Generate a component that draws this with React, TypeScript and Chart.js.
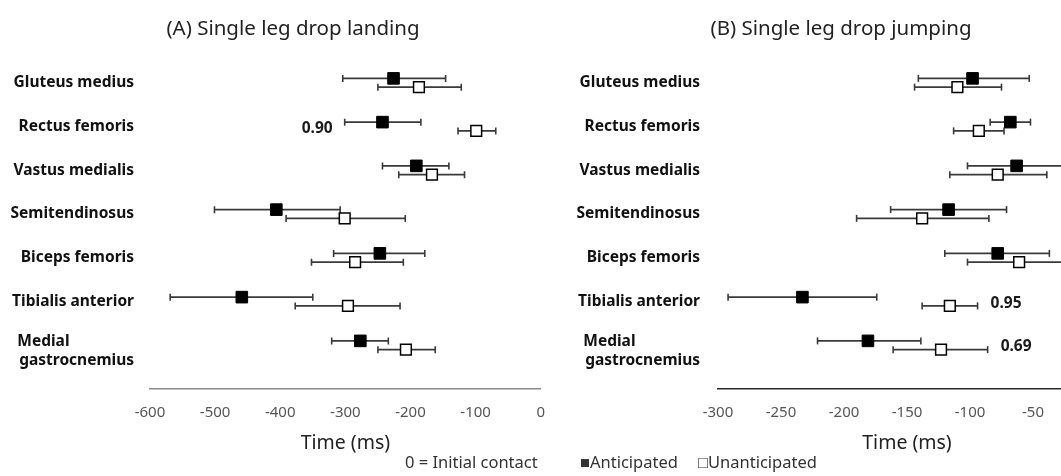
import React, { useEffect, useRef } from 'react';
import { Chart, registerables } from 'chart.js';

Chart.register(...registerables);

const FONT = "'Noto Sans', 'Open Sans', sans-serif";

// Row labels (top to bottom)
const muscles: (string | string[])[] = [
  'Gluteus medius',
  'Rectus femoris',
  'Vastus medialis',
  'Semitendinosus',
  'Biceps femoris',
  'Tibialis anterior',
  ['Medial', 'gastrocnemius'],
];

// (A) Single leg drop landing — onset time (ms)
const landAntMean = [-226, -243, -191, -406, -247, -459, -277];
const landAntLow = [-304, -301, -243, -501, -318, -569, -321];
const landAntHigh = [-146, -184, -141, -308, -178, -350, -234];
const landUnaMean = [-187, -99, -167, -301, -285, -296, -207];
const landUnaLow = [-250, -127, -218, -391, -352, -377, -250];
const landUnaHigh = [-122, -69, -117, -208, -211, -216, -162];

// (B) Single leg drop jumping — onset time (ms)
const jumpAntMean = [-98, -68, -63, -117, -78, -233, -181];
const jumpAntLow = [-141, -84, -102, -163, -120, -292, -221];
const jumpAntHigh = [-53, -52, -20, -71, -37, -174, -139];
const jumpUnaMean = [-110, -93, -78, -138, -61, -116, -123];
const jumpUnaLow = [-144, -113, -116, -190, -102, -138, -161];
const jumpUnaHigh = [-75, -73, -39, -85, -20, -94, -86];

// Axis ticks
const landTicks = [-600, -500, -400, -300, -200, -100, 0];
const jumpTicks = [-300, -250, -200, -150, -100, -50, 0];

// Effect-size annotations
const landNotes = [{ row: 1, value: -301, text: '0.90', side: 'left' }];
const jumpNotes = [
  { row: 5, value: -94, text: '0.95', side: 'right' },
  { row: 6, value: -86, text: '0.69', side: 'right' },
];

const LABEL_FONT_SIZE = 15.5;

let measureCtx: CanvasRenderingContext2D | null = null;
function alignLines(label: string | string[]) {
  if (!Array.isArray(label)) return label;
  if (!measureCtx) measureCtx = document.createElement('canvas').getContext('2d');
  const ctx = measureCtx!;
  ctx.font = `bold ${LABEL_FONT_SIZE}px ${FONT}`;
  const widths = label.map((l) => ctx.measureText(l).width);
  const maxW = Math.max(...widths);
  const sp = ctx.measureText(' ').width;
  return label.map((l, i) => l + ' '.repeat(Math.max(0, Math.round((maxW - widths[i]) / sp))));
}

const notesPlugin = {
  id: 'notes',
  afterDatasetsDraw(chart: any, _args: any, opts: any) {
    const notes = opts.items || [];
    const { ctx, scales } = chart;
    ctx.save();
    ctx.font = `bold 15.5px ${FONT}`;
    ctx.fillStyle = '#1a1a1a';
    ctx.textBaseline = 'middle';
    notes.forEach((n: any) => {
      const px = scales.x.getPixelForValue(n.value);
      const py = scales.y.getPixelForValue(n.row + 0.04);
      if (n.side === 'left') {
        ctx.textAlign = 'right';
        ctx.fillText(n.text, px - 12, py);
      } else {
        ctx.textAlign = 'left';
        ctx.fillText(n.text, px + 13, py);
      }
    });
    ctx.restore();
  },
};

function buildConfig(o: any) {
  const off = 0.1;
  const datasets: any[] = [];
  const groups = [
    { mean: o.antMean, low: o.antLow, high: o.antHigh, dy: -off, filled: true },
    { mean: o.unaMean, low: o.unaLow, high: o.unaHigh, dy: off, filled: false },
  ];
  groups.forEach((g) => {
    g.mean.forEach((_: number, i: number) => {
      datasets.push({
        data: [
          { x: g.low[i], y: i + g.dy },
          { x: g.high[i], y: i + g.dy },
        ],
        showLine: true,
        borderColor: '#3a3a3a',
        borderWidth: 1.8,
        pointStyle: 'line',
        pointRadius: 3.5,
        pointHoverRadius: 3.5,
        pointRotation: 90,
        pointBorderColor: '#3a3a3a',
        pointBorderWidth: 1.6,
        order: 2,
      });
    });
    datasets.push({
      data: g.mean.map((m: number, i: number) => ({ x: m, y: i + g.dy })),
      showLine: false,
      pointStyle: 'rect',
      pointRadius: g.filled ? 8.2 : 7.6,
      pointHoverRadius: g.filled ? 8.2 : 7.6,
      pointBackgroundColor: g.filled ? '#000' : '#fff',
      pointBorderColor: '#000',
      pointBorderWidth: g.filled ? 1 : 1.5,
      order: 0,
    });
  });

  return {
    type: 'scatter',
    data: { datasets },
    plugins: [notesPlugin],
    options: {
      animation: false,
      responsive: false,
      events: [],
      layout: { padding: { left: 0, right: o.padRight, top: 39, bottom: 0 } },
      plugins: {
        legend: { display: false },
        tooltip: { enabled: false },
        title: { display: false },
        notes: { items: o.notes },
      },
      scales: {
        x: {
          type: 'linear',
          min: o.ticks[0],
          max: o.ticks[o.ticks.length - 1],
          afterBuildTicks: (s: any) => {
            s.ticks = o.ticks.map((v: number) => ({ value: v }));
          },
          afterFit: (s: any) => {
            s.height = 87;
          },
          ticks: {
            font: { family: FONT, size: 15 },
            color: '#555',
            padding: 15,
            maxRotation: 0,
          },
          grid: { display: false, drawTicks: false },
          border: { display: true, color: o.axisColor, width: 1.5 },
          title: {
            display: true,
            text: 'Time (ms)',
            color: '#222',
            font: { family: FONT, size: 19.5 },
            padding: { top: 0, bottom: 21 },
          },
        },
        y: {
          type: 'linear',
          min: -1,
          max: 7,
          reverse: true,
          afterBuildTicks: (s: any) => {
            // two-line labels sit slightly lower, as in the original figure
            s.ticks = muscles.map((m, i) => ({ value: i + (Array.isArray(m) ? 0.14 : 0) }));
          },
          afterFit: (s: any) => {
            s.width = o.yWidth;
          },
          ticks: {
            callback: (v: number) => alignLines(muscles[Math.round(v)]),
            font: { family: FONT, size: LABEL_FONT_SIZE, weight: 'bold' },
            color: '#111',
            padding: o.labelPad,
            crossAlign: 'near',
          },
          grid: { display: false, drawTicks: false },
          border: { display: false },
        },
      },
    },
  };
}

function Panel({ left, width, make }: { left: number; width: number; make: () => any }) {
  const ref = useRef<HTMLCanvasElement | null>(null);
  useEffect(() => {
    const chart = new Chart(ref.current as HTMLCanvasElement, make());
    return () => chart.destroy();
  }, []);
  return (
    <canvas
      ref={ref}
      width={width}
      height={476}
      style={{ position: 'absolute', left, top: 0, width, height: 476 }}
    />
  );
}

export default function App() {
  const makeA = () =>
    buildConfig({
      antMean: landAntMean, antLow: landAntLow, antHigh: landAntHigh,
      unaMean: landUnaMean, unaLow: landUnaLow, unaHigh: landUnaHigh,
      ticks: landTicks,
      notes: landNotes,
      yWidth: 150, padRight: 17, labelPad: 16,
      axisColor: '#8a8a8a',
    });
  const makeB = () =>
    buildConfig({
      antMean: jumpAntMean, antLow: jumpAntLow, antHigh: jumpAntHigh,
      unaMean: jumpUnaMean, unaLow: jumpUnaLow, unaHigh: jumpUnaHigh,
      ticks: jumpTicks,
      notes: jumpNotes,
      yWidth: 158, padRight: 24, labelPad: 18,
      axisColor: '#2a2a2a',
    });

  const legendText: React.CSSProperties = {
    position: 'absolute',
    top: 451,
    fontFamily: FONT,
    fontSize: 16.5,
    lineHeight: '22px',
    color: '#333',
    whiteSpace: 'nowrap',
  };
  const titleText: React.CSSProperties = {
    position: 'absolute',
    top: 14.5,
    fontFamily: FONT,
    fontSize: 20.5,
    lineHeight: '24px',
    color: '#222',
    whiteSpace: 'nowrap',
    transform: 'translateX(-50%)',
  };

  return (
    <div
      style={{
        position: 'fixed',
        left: 0,
        top: 0,
        width: 1061,
        height: 476,
        overflow: 'hidden',
        background: '#fff',
      }}
    >
      <Panel left={0} width={560} make={makeA} />
      <Panel left={560} width={560} make={makeB} />
      <span style={{ ...titleText, left: 293 }}>(A) Single leg drop landing</span>
      <span style={{ ...titleText, left: 841 }}>(B) Single leg drop jumping</span>
      <span style={{ ...legendText, left: 405 }}>0 = Initial contact</span>
      <span style={{ ...legendText, left: 580 }}>■Anticipated</span>
      <span style={{ ...legendText, left: 698 }}>□Unanticipated</span>
    </div>
  );
}
